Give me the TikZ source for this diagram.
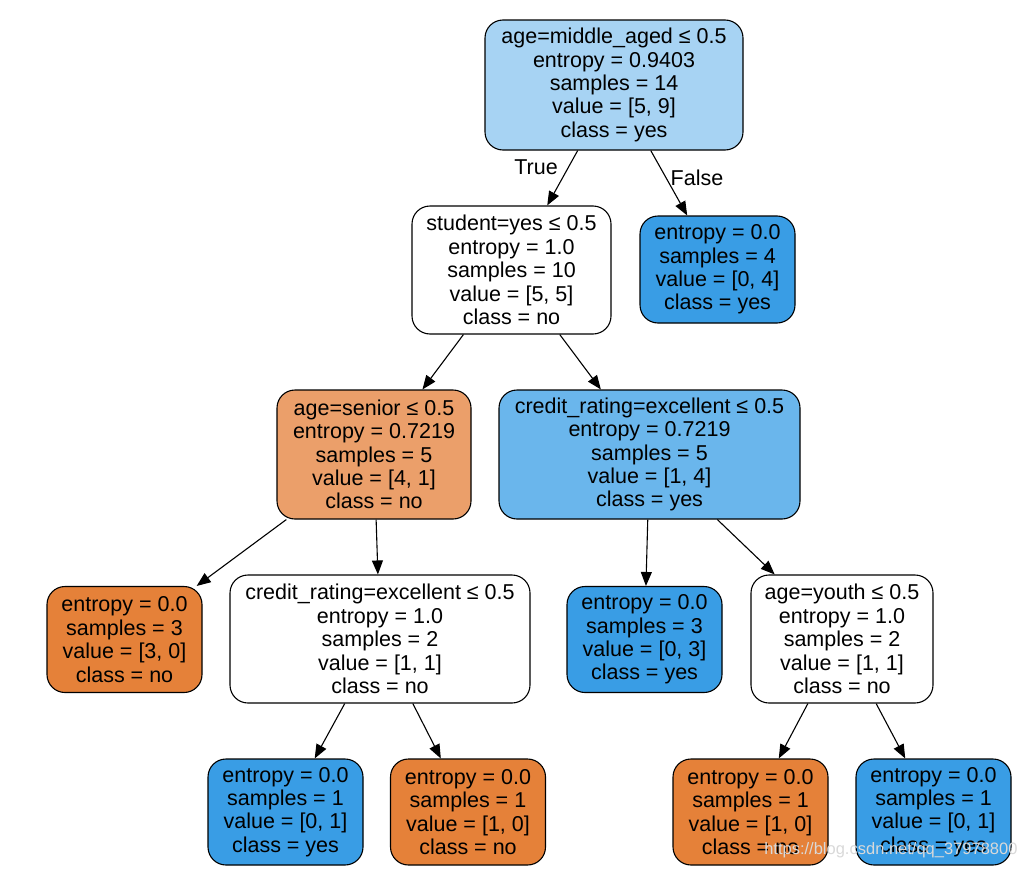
\documentclass[tikz,border=0pt]{standalone}
\usepackage{fontspec}
\setmainfont{Liberation Sans}
\usetikzlibrary{arrows.meta}
\definecolor{rootblue}{HTML}{A7D3F3}
\definecolor{midblue}{HTML}{6AB6EC}
\definecolor{fullblue}{HTML}{399DE5}
\definecolor{midorange}{HTML}{EB9F6A}
\definecolor{fullorange}{HTML}{E58139}
\tikzset{
  tnode/.style={draw=black, line width=1.1pt, rounded corners=18pt, align=center, inner sep=0pt,
    font=\fontsize{21.5}{23.4}\selectfont},
  leaf/.style={tnode, minimum width=155pt, minimum height=106pt},
  edge/.style={line width=1.1pt, -{Triangle[length=14pt,width=11pt]}},
  elabel/.style={font=\fontsize{21.5}{23.4}\selectfont},
}
\begin{document}
\begin{tikzpicture}[x=1pt,y=-1pt]
\useasboundingbox[fill=white] (0,0) rectangle (1030,870);
\node[tnode, fill=rootblue, minimum width=258pt, minimum height=130pt] (root) at (614,85)
  {age=middle\_aged ≤ 0.5\\entropy = 0.9403\\samples = 14\\value = [5, 9]\\class = yes};
\node[tnode, fill=white, minimum width=199pt, minimum height=128pt] (student) at (511.5,270)
  {student=yes ≤ 0.5\\entropy = 1.0\\samples = 10\\value = [5, 5]\\class = no};
\node[leaf, fill=fullblue, minimum height=107pt] (leafR) at (717.5,269.5)
  {entropy = 0.0\\samples = 4\\value = [0, 4]\\class = yes};
\node[tnode, fill=midorange, minimum width=194pt, minimum height=129pt] (senior) at (374,454.5)
  {age=senior ≤ 0.5\\entropy = 0.7219\\samples = 5\\value = [4, 1]\\class = no};
\node[tnode, fill=midblue, minimum width=301pt, minimum height=129pt] (creditA) at (649.5,454.5)
  {credit\_rating=excellent ≤ 0.5\\entropy = 0.7219\\samples = 5\\value = [1, 4]\\class = yes};
\node[leaf, fill=fullorange] (leafO3) at (124.5,639.5)
  {entropy = 0.0\\samples = 3\\value = [3, 0]\\class = no};
\node[tnode, fill=white, minimum width=300pt, minimum height=128pt] (creditB) at (380,639)
  {credit\_rating=excellent ≤ 0.5\\entropy = 1.0\\samples = 2\\value = [1, 1]\\class = no};
\node[leaf, fill=fullblue] (leafB3) at (644.5,639.5)
  {entropy = 0.0\\samples = 3\\value = [0, 3]\\class = yes};
\node[tnode, fill=white, minimum width=182pt, minimum height=128pt] (youth) at (842,639)
  {age=youth ≤ 0.5\\entropy = 1.0\\samples = 2\\value = [1, 1]\\class = no};
\node[leaf, fill=fullblue] (b1) at (285.5,812)
  {entropy = 0.0\\samples = 1\\value = [0, 1]\\class = yes};
\node[leaf, fill=fullorange] (b2) at (468,812)
  {entropy = 0.0\\samples = 1\\value = [1, 0]\\class = no};
\node[leaf, fill=fullorange] (b3) at (750.5,812)
  {entropy = 0.0\\samples = 1\\value = [1, 0]\\class = no};
\node[leaf, fill=fullblue] (b4) at (933.5,812)
  {entropy = 0.0\\samples = 1\\value = [0, 1]\\class = yes};
\draw[edge] (root) -- (student);
\draw[edge] (root) -- (leafR);
\draw[edge] (student) -- (senior);
\draw[edge] (student) -- (creditA);
\draw[edge] (senior) -- (leafO3);
\draw[edge] (senior) -- (creditB);
\draw[edge] (creditA) -- (leafB3);
\draw[edge] (creditA) -- (youth);
\draw[edge] (creditB) -- (b1);
\draw[edge] (creditB) -- (b2);
\draw[edge] (youth) -- (b3);
\draw[edge] (youth) -- (b4);
\node[elabel] (ltrue) at (536,167) {True};
\node[elabel] (lfalse) at (697,178) {False};
\node[font=\fontsize{16.5}{18}\selectfont, text=gray!30, anchor=east] (wm) at (1021,850) {https://blog.csdn.net/qq\_37978800};
\end{tikzpicture}
\end{document}
